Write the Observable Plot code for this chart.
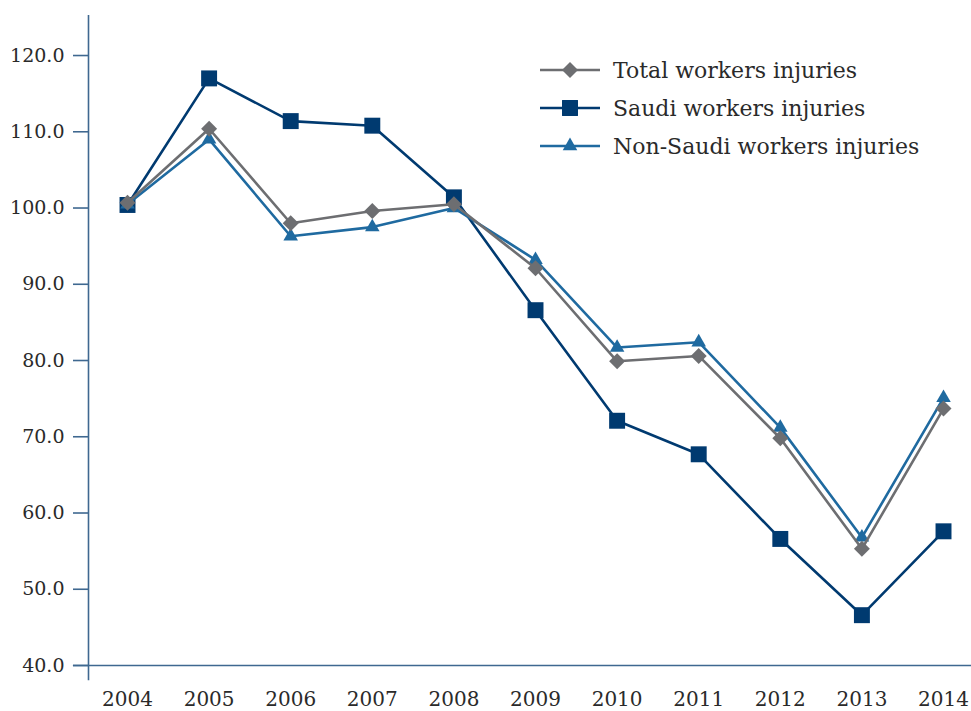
<!DOCTYPE html>
<html><head><meta charset="utf-8">
<script src="https://cdn.jsdelivr.net/npm/d3@7"></script>
<script src="https://cdn.jsdelivr.net/npm/@observablehq/plot@0.6"></script>
<style>
body{margin:0;background:#fff;}
#wrap{position:relative;width:971px;height:711px;overflow:hidden;}
#legend{position:absolute;left:540px;top:51px;font-family:"DejaVu Serif",serif;font-size:22px;color:#2a2a2a;}
#legend .row{display:flex;align-items:center;height:38px;}
#legend svg{margin-right:11px;}
</style></head><body>
<div id="wrap"><div id="chart"></div><div id="legend"></div></div>
<script>
const years = [2004, 2005, 2006, 2007, 2008, 2009, 2010, 2011, 2012, 2013, 2014];
const total    = [100.7, 110.4, 98.0, 99.6, 100.5, 92.1, 79.9, 80.6, 69.8, 55.3, 73.7];
const saudi    = [100.4, 117.0, 111.4, 110.8, 101.4, 86.6, 72.1, 67.7, 56.6, 46.6, 57.6];
const nonSaudi = [100.5, 109.0, 96.3, 97.5, 100.0, 93.2, 81.7, 82.4, 71.2, 56.8, 75.1];
const seriesNames = ["Total workers injuries", "Saudi workers injuries", "Non-Saudi workers injuries"];
const seriesColors = ["#6d6e71", "#003a70", "#1f6aa0"];
const seriesSymbols = ["diamond2", "square", "triangle"];
const symbolSizes = [7.2, 9, 5.4];
const yTicks = [40, 50, 60, 70, 80, 90, 100, 110, 120];
const axisColor = "#3f6890";

const values = [total, saudi, nonSaudi];
const data = [];
values.forEach((arr, i) => arr.forEach((v, j) => data.push({series: seriesNames[i], year: years[j], value: v})));

const xDomain = [2003.522, 2014.343];
const yDomain = [40, 125.25];
const drawOrder = [1, 2, 0];

const marks = [
  Plot.ruleX([xDomain[0]], {y1: 38.0, y2: yDomain[1], stroke: axisColor, strokeWidth: 1.6}),
  Plot.ruleY([yDomain[0]], {x1: xDomain[0] - 0.185, x2: xDomain[1], stroke: axisColor, strokeWidth: 1.6}),
  Plot.axisY(yTicks, {tickSize: 15, tickPadding: 9, tickFormat: d3.format(".1f"), stroke: axisColor, strokeWidth: 1.6, fill: "#2a2a2a", fontSize: 19, label: null}),
  Plot.axisX(years, {tickSize: 0, tickPadding: 26, tickFormat: d3.format("d"), fill: "#2a2a2a", fontSize: 20, label: null})
];
for (const i of drawOrder) {
  const d = data.filter(r => r.series === seriesNames[i]);
  marks.push(Plot.line(d, {x: "year", y: "value", stroke: seriesColors[i], strokeWidth: 2.6}));
  marks.push(Plot.dot(d, {x: "year", y: "value", symbol: () => seriesSymbols[i], fill: seriesColors[i], stroke: "none", r: symbolSizes[i]}));
}

const chart = Plot.plot({
  width: 971, height: 711,
  marginLeft: 88, marginRight: 0, marginTop: 15, marginBottom: 46,
  style: {fontFamily: "DejaVu Serif, serif", background: "#fff", overflow: "visible"},
  x: {domain: xDomain, axis: null},
  y: {domain: yDomain, axis: null},
  symbol: {type: "identity"},
  marks
});
document.getElementById("chart").appendChild(chart);

// legend
const legend = d3.select("#legend");
seriesNames.forEach((name, i) => {
  const row = legend.append("div").attr("class", "row");
  const svg = row.append("svg").attr("width", 62).attr("height", 20);
  svg.append("line").attr("x1", 0).attr("x2", 60).attr("y1", 10).attr("y2", 10)
    .attr("stroke", seriesColors[i]).attr("stroke-width", 2.6);
  const sym = {diamond2: d3.symbolDiamond2, square: d3.symbolSquare, triangle: d3.symbolTriangle}[seriesSymbols[i]];
  svg.append("path").attr("transform", "translate(30,10)")
    .attr("d", d3.symbol(sym, Math.PI * symbolSizes[i] * symbolSizes[i])())
    .attr("fill", seriesColors[i]);
  row.append("span").text(name);
});
</script>
</body></html>
